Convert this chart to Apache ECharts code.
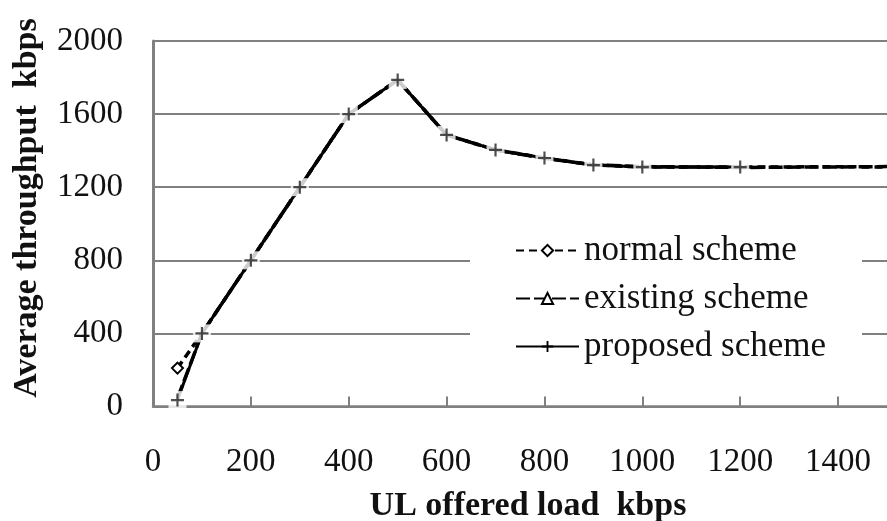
<!DOCTYPE html>
<html><head><meta charset="utf-8">
<script src="https://cdn.jsdelivr.net/npm/echarts@6/dist/echarts.min.js"></script>
<style>html,body{margin:0;padding:0;background:#fff}#c{width:887px;height:521px}</style>
</head><body><div id="c"></div>
<script>
// UL offered load (kbps)
const loadAll = [50, 100, 200, 300, 400, 500, 600, 700, 800, 900, 1000, 1200, 1400, 1500];
const normalScheme = [210, 400, 800, 1200, 1600, 1787, 1486, 1404, 1360, 1322, 1310, 1310, 1312, 1310];
const existingScheme = [45, 400, 800, 1200, 1600, 1787, 1486, 1404, 1358, 1322, 1313, 1308, 1311, 1313];
const loadProposed = [50, 100, 200, 300, 400, 500, 600, 700, 800, 900, 1000, 1200];
const proposedScheme = [35, 400, 800, 1200, 1600, 1787, 1486, 1404, 1360, 1321, 1310, 1310];
const seriesNames = ['normal scheme', 'existing scheme', 'proposed scheme'];
const xTitle = 'UL offered load  kbps';
const yTitle = 'Average throughput  kbps';

const pairs = (xs, ys) => xs.map((x, i) => [x, ys[i]]);
const serif = '"Liberation Serif", "Times New Roman", serif';
const plusPath = 'path://M5,0H7V12H5Z M0,5H12V7H0Z';
const plain = v => String(v);

const chart = echarts.init(document.getElementById('c'));
chart.setOption({
  animation: false,
  backgroundColor: '#fff',
  grid: { left: 153, top: 41, width: 737, bottom: 114.5, containLabel: false },
  xAxis: {
    type: 'value', min: 0, max: 1500, interval: 200,
    axisLine: { lineStyle: { color: '#808080', width: 2.5 } },
    axisTick: { inside: true, length: 10, lineStyle: { color: '#808080', width: 2 } },
    splitLine: { show: false },
    axisLabel: { showMaxLabel: false, margin: 39, color: '#111', fontFamily: serif, fontSize: 33, formatter: plain }
  },
  yAxis: {
    type: 'value', min: 0, max: 2000, interval: 400,
    axisLine: { show: true, lineStyle: { color: '#808080', width: 3 } },
    axisTick: { show: false },
    splitLine: { lineStyle: { color: '#808080', width: 2 } },
    axisLabel: { margin: 30, color: '#111', fontFamily: serif, fontSize: 33, formatter: plain }
  },
  legend: {
    orient: 'vertical', left: 470, top: 221,
    itemWidth: 63, itemHeight: 14, itemGap: 13,
    padding: [12, 36, 14, 45],
    backgroundColor: '#fff',
    textStyle: { fontFamily: serif, fontSize: 35, color: '#111' },
    data: seriesNames
  },
  graphic: [
    { type: 'text', x: 27, y: 208, rotation: Math.PI / 2, z: 10,
      style: { text: yTitle, fontFamily: serif, fontWeight: 'bold', fontSize: 34, fill: '#111', align: 'center', verticalAlign: 'middle' } },
    { type: 'text', x: 528, y: 506, z: 10,
      style: { text: xTitle, fontFamily: serif, fontWeight: 'bold', fontSize: 34, fill: '#111', align: 'center', verticalAlign: 'middle' } }
  ],
  series: [
    { name: seriesNames[0], type: 'line', z: 2, data: pairs(loadAll, normalScheme),
      symbol: 'emptyDiamond', symbolSize: (v, p) => (p.dataIndex === 0 ? 11 : 0),
      lineStyle: { color: '#000', width: 3.5, type: [8, 5] },
      itemStyle: { color: '#000', borderColor: '#000', borderWidth: 1.5 } },
    { name: seriesNames[1], type: 'line', z: 2, data: pairs(loadAll, existingScheme),
      symbol: 'emptyTriangle', symbolSize: 11, showSymbol: false,
      lineStyle: { color: '#000', width: 3.5, type: [14, 4] },
      itemStyle: { color: '#000', borderColor: '#000', borderWidth: 1.5 } },
    { name: seriesNames[2], type: 'line', z: 2, data: pairs(loadProposed, proposedScheme),
      symbol: plusPath, symbolSize: 11, showSymbol: false,
      lineStyle: { color: '#000', width: 3 },
      itemStyle: { color: '#000' } },
    { type: 'scatter', z: 3, silent: true, data: pairs(loadProposed, proposedScheme),
      symbol: 'rect', symbolSize: 18, itemStyle: { color: '#fff' } },
    { type: 'scatter', z: 4, silent: true, data: pairs(loadProposed, proposedScheme),
      symbol: plusPath, symbolSize: 13, itemStyle: { color: '#222' } }
  ]
});
</script>
</body></html>
